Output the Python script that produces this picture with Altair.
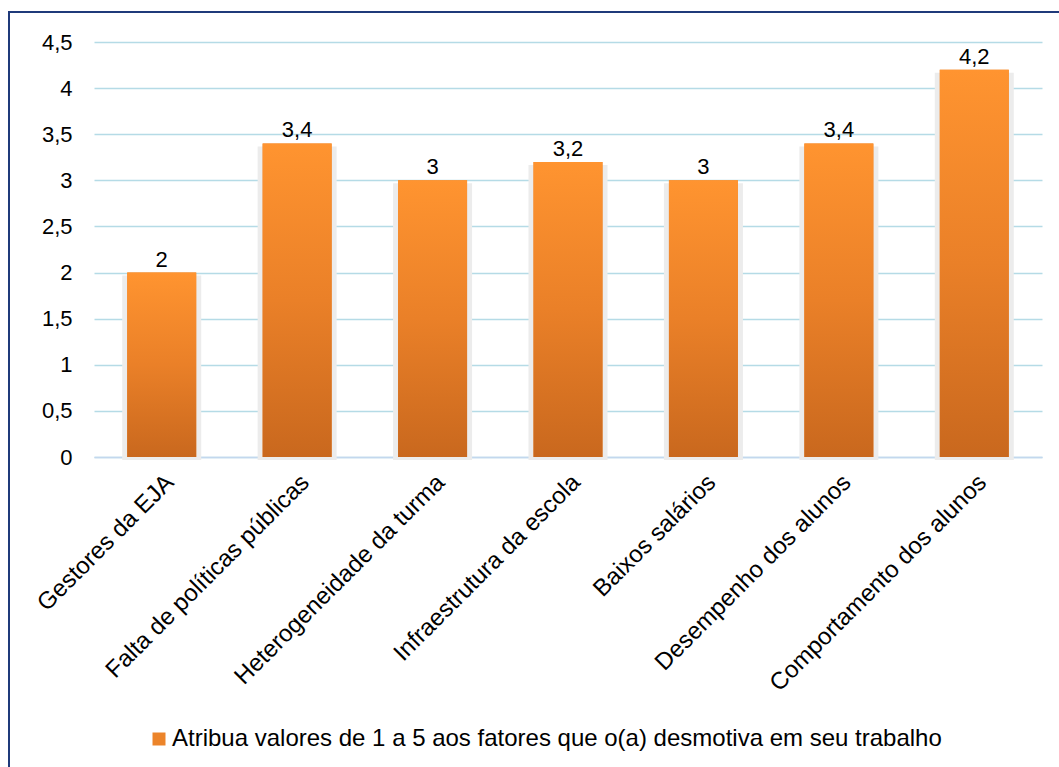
import altair as alt
import pandas as pd

categories = [
    "Gestores da EJA",
    "Falta de políticas públicas",
    "Heterogeneidade da turma",
    "Infraestrutura da escola",
    "Baixos salários",
    "Desempenho dos alunos",
    "Comportamento dos alunos",
]
values = [2, 3.4, 3, 3.2, 3, 3.4, 4.2]
value_labels = ["2", "3,4", "3", "3,2", "3", "3,4", "4,2"]
y_ticks = [0, 0.5, 1, 1.5, 2, 2.5, 3, 3.5, 4, 4.5]
series_name = "Atribua valores de 1 a 5 aos fatores que o(a) desmotiva em seu trabalho"

df = pd.DataFrame({"cat": categories, "val": values, "lab": value_labels, "serie": series_name})

FONT = "Liberation Sans"
W, H = 948, 415

x_enc = alt.X("cat:N", sort=categories, title=None,
              scale=alt.Scale(paddingInner=0, paddingOuter=0),
              axis=alt.Axis(labelAngle=-45, labelAlign="right", labelBaseline="top",
                            labelFontSize=24, labelFont=FONT, labelColor="#000000",
                            labelPadding=13, ticks=False, tickSize=0, labelLimit=0,
                            domainColor="#C3D8EE", domainWidth=1.5, grid=False))
y_enc = alt.Y("val:Q", title=None,
              scale=alt.Scale(domain=[0, 4.5], nice=False, zero=True),
              axis=alt.Axis(values=y_ticks, labelFontSize=22, labelFont=FONT,
                            labelColor="#000000", labelPadding=22, ticks=False, tickSize=0,
                            domain=False, gridColor="#B5DBE6", gridWidth=1.5,
                            labelExpr="replace(format(datum.value, '~g'), '.', ',')"))

base = alt.Chart(df)

shadow = base.mark_bar(size=79, color="#ECECEC", yOffset=3).encode(x=x_enc, y=y_enc)

legend_bar = base.mark_bar(size=69).encode(
    x=x_enc, y=y_enc,
    color=alt.Color("serie:N", title=None,
                    scale=alt.Scale(range=["#EC842A"]),
                    legend=alt.Legend(orient="none", legendX=53, legendY=685,
                                      symbolType="square", symbolSize=169,
                                      symbolStrokeWidth=0,
                                      labelFontSize=24, labelFont=FONT,
                                      labelColor="#000000", labelLimit=0,
                                      labelOffset=1)),
)

grad = alt.Gradient(
    gradient="linear",
    stops=[alt.GradientStop(color="#FF9430", offset=0),
           alt.GradientStop(color="#EA8028", offset=0.5),
           alt.GradientStop(color="#C9681E", offset=1)],
    x1=0, x2=0, y1=0, y2=1,
)
bars = base.mark_bar(size=69, color=grad).encode(x=x_enc, y=y_enc)

texts = base.mark_text(baseline="alphabetic", dy=-6, fontSize=22, font=FONT,
                       color="#000000").encode(x=x_enc, y=y_enc, text="lab:N")

frame = alt.Chart(alt.Data(values=[{"a": 1}])).mark_rect(
    fill=None, stroke="#1F3A7A", strokeWidth=2
).encode(x=alt.value(-85), x2=alt.value(975), y=alt.value(-30), y2=alt.value(730))

chart = alt.layer(shadow, legend_bar, bars, texts, frame).properties(
    width=W, height=H,
    autosize=alt.AutoSizeParams(type="none"),
    padding={"left": 94, "top": 42, "right": 17, "bottom": 310},
    background="#FFFFFF",
).configure_view(stroke=None)

chart.save("out.html", embed_options={"renderer": "svg", "actions": False})
